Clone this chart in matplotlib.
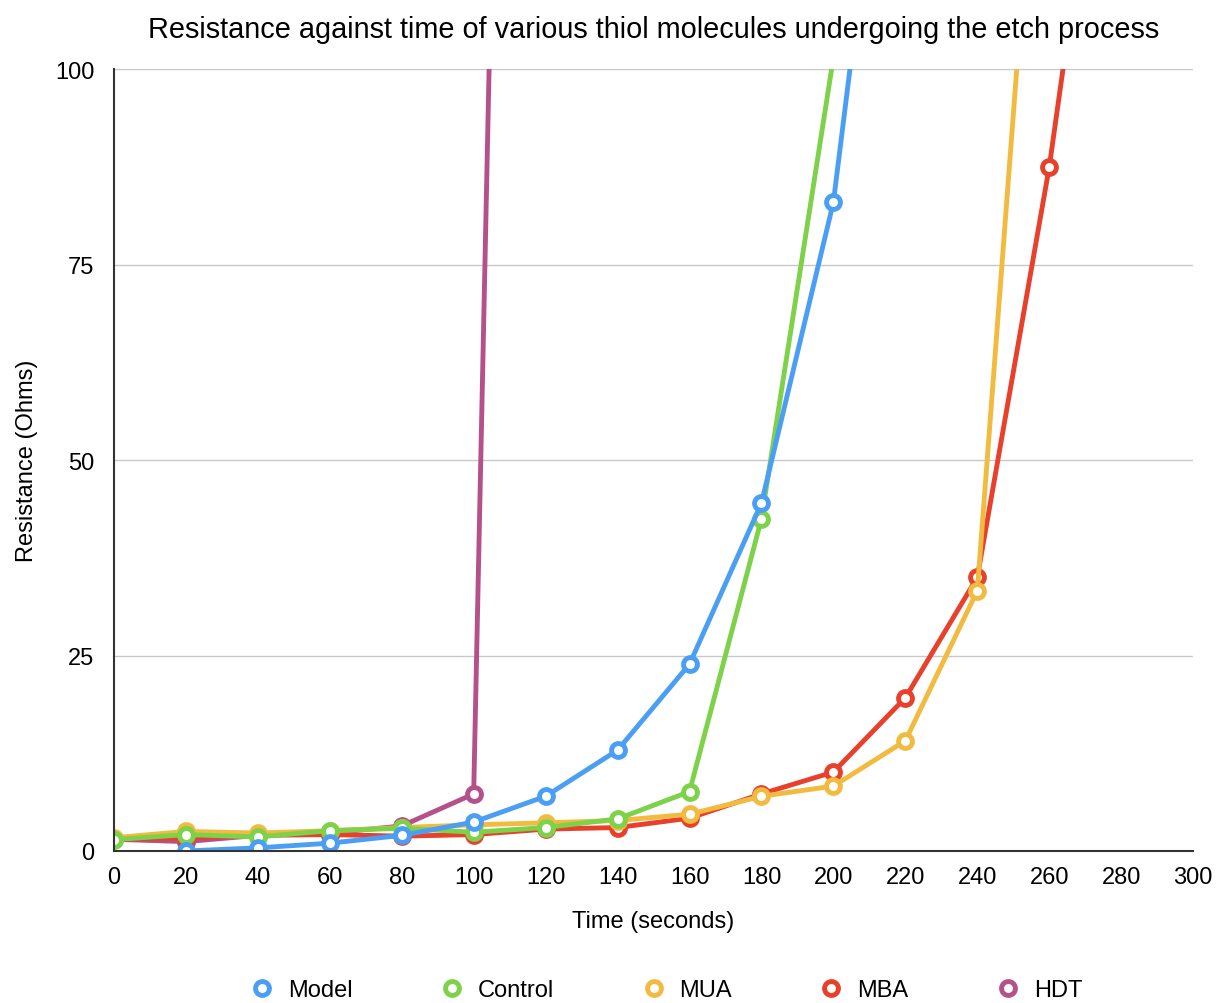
import numpy as np
import matplotlib.pyplot as plt

plt.rcParams['font.family'] = ['Liberation Sans', 'DejaVu Sans']

time = [0, 20, 40, 60, 80, 100, 120, 140, 160, 180, 200, 220, 240, 260, 280]

model_t = [20, 40, 60, 80, 100, 120, 140, 160, 180, 200, 220]
model = [0.0, 0.4, 1.0, 2.0, 3.7, 7.0, 12.9, 23.9, 44.5, 83.0, 157]

control_t = [0, 20, 40, 60, 80, 100, 120, 140, 160, 180, 200]
control = [1.45, 2.1, 1.8, 2.6, 2.9, 2.4, 3.0, 4.1, 7.6, 42.5, 101.5]

mua_t = [0, 20, 40, 60, 80, 100, 120, 140, 160, 180, 200, 220, 240, 260]
mua = [1.7, 2.5, 2.3, 2.6, 3.0, 3.35, 3.6, 3.9, 4.7, 7.0, 8.3, 14.1, 33.3, 155]

mba_t = [0, 20, 40, 60, 80, 100, 120, 140, 160, 180, 200, 220, 240, 260, 280]
mba = [1.5, 1.7, 2.0, 2.1, 1.9, 2.1, 2.8, 3.0, 4.2, 7.3, 10.1, 19.6, 35.0, 87.5, 153]

hdt_t = [0, 20, 40, 60, 80, 100, 120]
hdt = [1.5, 1.2, 2.0, 2.3, 3.2, 7.3, 440]

series = [
    ("HDT", hdt_t, hdt, "#b5508a"),
    ("MBA", mba_t, mba, "#e8402a"),
    ("MUA", mua_t, mua, "#f2bb40"),
    ("Control", control_t, control, "#7dd24a"),
    ("Model", model_t, model, "#4a9ff5"),
]

fig = plt.figure(figsize=(12.25, 10.04), dpi=100)
ax = fig.add_axes([0.093, 0.1514, 0.881, 0.7786])

lines = {}
for name, t, v, c in series:
    ln, = ax.plot(t, v, color=c, lw=3.5, marker='o', ms=10, mfc='white',
                  mec=c, mew=3.5, label=name, solid_joinstyle='round')
    lines[name] = ln

ax.set_xlim(0, 300)
ax.set_ylim(0, 100)
ax.set_xticks(np.arange(0, 301, 20))
ax.set_yticks([0, 25, 50, 75, 100])
ax.tick_params(length=0, labelsize=17)
ax.tick_params(axis='x', pad=11)
ax.tick_params(axis='y', pad=14)
ax.yaxis.grid(True, color='#c8c8c8', lw=1)
ax.set_axisbelow(True)
for s in ['top', 'right']:
    ax.spines[s].set_visible(False)
for s in ['left', 'bottom']:
    ax.spines[s].set_color('#333333')
    ax.spines[s].set_linewidth(1.5)

ax.set_title("Resistance against time of various thiol molecules undergoing the etch process",
             fontsize=20.8, pad=23)
ax.set_xlabel("Time (seconds)", fontsize=17)
ax.set_ylabel("Resistance (Ohms)", fontsize=17)
ax.xaxis.set_label_coords(0.5, -0.075)
ax.yaxis.set_label_coords(-0.07, 0.5)

order = ["Model", "Control", "MUA", "MBA", "HDT"]
handles = []
for name in order:
    ln = lines[name]
    h, = ax.plot([], [], ls='none', marker='o', ms=10, mfc='white',
                 mec=ln.get_color(), mew=3.5)
    handles.append(h)
fig.legend(handles, order, loc='center', ncol=5, frameon=False,
           fontsize=17, bbox_to_anchor=(0.543, 0.013), columnspacing=3.6,
           handletextpad=0.5, handlelength=1.2)

fig.savefig("out.png", dpi=100)
